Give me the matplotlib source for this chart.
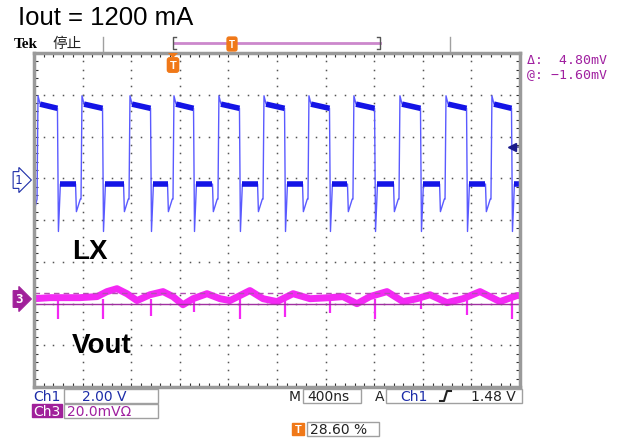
import numpy as np
import matplotlib.pyplot as plt
from matplotlib.patches import Rectangle, Polygon
from matplotlib.lines import Line2D

plt.rcParams['font.family'] = ['Liberation Sans', 'Noto Sans CJK SC', 'DejaVu Sans']

W, H = 642, 439

# scope settings
ns_per_div = 400
trig_pos = 0.286          # 28.60 %
ch1_v_per_div = 2.0
ch1_offset_div = 1.0
ch3_mv_per_div = 20.0
ch3_offset_div = -1.92
trig_level_v = 1.48
cursor_a_mv = 3.20
cursor_b_mv = -1.60

# LX (Ch1): switching edges, ns from trigger
rise_ns = [-1119, -757, -362, 0, 370, 741, 1111, 1481, 1860, 2239, 2617]
fall_ns = [-947, -576, -181, 173, 551, 922, 1292, 1663, 2041, 2420, 2790]
# LX levels (V)
lx_overshoot = 3.95
lx_high_start = 3.55
lx_high_end = 3.35
lx_low = -0.28
lx_fall_spike = -2.55
lx_dip = -1.6
lx_dip_end = -1.0

# Vout ripple (Ch3, mV)
vout_t_ns = [-1144, -1012, -905, -765, -625, -543, -461, -379, -296, -189, -82, 0,
             82, 165, 280, 387, 469, 633, 741, 856, 988, 1128, 1292, 1399, 1514,
             1621, 1761, 1893, 2008, 2115, 2255, 2387, 2527, 2691, 2831, 2856]
vout_mv = [0.7, 1.2, 1.2, 1.2, 1.7, 4.1, 5.5, 3.1, -0.2, 2.6, 4.1, 1.7,
           -2.2, 0.7, 3.1, 0.7, -0.2, 4.6, 0.7, -0.7, 3.1, 0.7, 1.2, 1.7, -1.7,
           1.7, 4.1, -0.7, 0.7, 2.6, -1.2, 0.7, 4.1, -0.7, 2.2, 2.2]
spike_ns = fall_ns
spike_mv = [-8.9, -8.9, -7.4, -5.5, -8.9, -7.9, -6.0, -8.9, -4.1, -7.0, -8.9]

t_left = -trig_pos * 10 * ns_per_div
t_right = t_left + 10 * ns_per_div


def tx(t):
    return (np.asarray(t, float) - t_left) / ns_per_div


def y1(v):
    return np.asarray(v, float) / ch1_v_per_div + ch1_offset_div


def y3(mv):
    return np.asarray(mv, float) / ch3_mv_per_div + ch3_offset_div


def fx(x):
    return x / W


def fy(y):
    return 1 - y / H


fig = plt.figure(figsize=(W / 100, H / 100), dpi=100)
ax = fig.add_axes([fx(34), fy(388), 486 / W, 334 / H])
ax.set_xlim(0, 10)
ax.set_ylim(-4, 4)

# graticule
dot_c = '#555555'
for xi in range(1, 10):
    yy = np.arange(-4, 4.01, 0.2)
    ax.plot(np.full_like(yy, xi), yy, ls='none', marker='s', ms=1.1, color=dot_c, mew=0)
for yi in range(-3, 4):
    xx = np.arange(0, 10.01, 0.2)
    ax.plot(xx, np.full_like(xx, yi), ls='none', marker='s', ms=1.1, color=dot_c, mew=0)

ax.set_xticks(np.arange(0, 10.01, 0.2))
ax.set_yticks(np.arange(-4, 4.01, 0.2))
ax.tick_params(direction='in', length=3, width=0.8, color='#333333',
               top=True, right=True, labelbottom=False, labelleft=False)
for s in ax.spines.values():
    s.set_color('#9a9a9a')
    s.set_linewidth(2.5)

# Ch1 trace
tp, vp = [t_left], [lx_dip]
high_segs, low_segs = [], []
for i, tr in enumerate(rise_ns):
    tf = fall_ns[i]
    tp += [tr, tr + 8, tr + 25, tf - 4, tf + 4, tf + 20]
    vp += [lx_dip_end, lx_overshoot, lx_high_start, lx_high_end, lx_fall_spike, lx_low]
    high_segs.append(([tr + 25, tf - 4], [lx_high_start, lx_high_end]))
    if i + 1 < len(rise_ns):
        nxt = rise_ns[i + 1]
        tp += [nxt - 45, nxt - 38, nxt - 6]
        vp += [lx_low, lx_dip, lx_dip_end]
        low_segs.append(([tf + 20, nxt - 45], [lx_low, lx_low]))
    else:
        tp += [t_right]
        vp += [lx_low]
        low_segs.append(([tf + 20, t_right], [lx_low, lx_low]))
ax.plot(tx(tp), y1(vp), color='#5a5aff', lw=1.0)
for ts, vs in high_segs + low_segs:
    ax.plot(tx(ts), y1(vs), color='#1414e6', lw=4.0, solid_capstyle='butt')

# Ch3 trace
ax.plot(tx(vout_t_ns), y3(vout_mv), color='#f428f4', lw=5.0, solid_joinstyle='round')
ax.vlines(tx(spike_ns), y3(0.5), y3(spike_mv), color='#f428f4', lw=1.6)

# cursors
ax.axhline(y3(cursor_a_mv), color='#b050b0', lw=1, ls=(0, (4, 3)))
ax.axhline(y3(cursor_b_mv), color='#a030a0', lw=1)

# trigger level arrow
ax.plot([9.85, 10], [y1(trig_level_v)] * 2, color='#7070a0', lw=1.5)
ax.plot(9.83, y1(trig_level_v), marker='<', ms=6, color='#1c1c8c', clip_on=False)

# labels on screen
fig.text(fx(72), fy(252), 'LX', fontsize=20, fontweight='bold', va='center')
fig.text(fx(72), fy(346), 'Vout', fontsize=20, fontweight='bold', va='center')
fig.text(fx(18), fy(18), 'Iout = 1200 mA', fontsize=18.5, va='center')

# channel ground markers
fig.text(fx(15), fy(181), '1', fontsize=9, color='#1c2ca8', va='center',
         family='DejaVu Sans Mono',
         bbox=dict(boxstyle='rarrow,pad=0.15', fc='white', ec='#1c2ca8', lw=0.8))
fig.text(fx(15), fy(300), '3', fontsize=9, color='white', va='center', fontweight='bold',
         family='DejaVu Sans Mono',
         bbox=dict(boxstyle='rarrow,pad=0.15', fc='#a0209a', ec='#a0209a', lw=0.8))

# header
fig.text(fx(14), fy(44), 'Tek', fontsize=11, fontweight='bold', family='Liberation Serif', va='center')
fig.text(fx(52), fy(44), '停止', fontsize=10.5, family='Noto Sans CJK SC', va='center', color='#222222')
for xg in (103, 450):
    fig.add_artist(Line2D([fx(xg)] * 2, [fy(38), fy(52)], color='#a0a0a0', lw=1))
fig.add_artist(Line2D([fx(174), fx(380)], [fy(44)] * 2, color='#cc88cc', lw=2))
fig.add_artist(Line2D([fx(176), fx(173), fx(173), fx(176)], [fy(38), fy(38), fy(50), fy(50)],
                      color='#555555', lw=1))
fig.add_artist(Line2D([fx(377), fx(380), fx(380), fx(377)], [fy(38), fy(38), fy(50), fy(50)],
                      color='#555555', lw=1))
orange = '#f07818'
fig.text(fx(232), fy(45), 'T', fontsize=7, color='white', fontweight='bold', ha='center', va='center',
         bbox=dict(boxstyle='round,pad=0.2', fc=orange, ec=orange))
fig.add_artist(Polygon([[fx(168), fy(54)], [fx(178), fy(54)], [fx(173), fy(59)]],
                       closed=True, fc=orange, ec='none'))
fig.text(fx(173), fy(66), 'T', fontsize=8, color='white', fontweight='bold', ha='center', va='center',
         bbox=dict(boxstyle='round,pad=0.2', fc=orange, ec=orange))

# cursor readout
purple = '#a020a0'
fig.text(fx(527), fy(61), 'Δ:  4.80mV', fontsize=9.5, color=purple, family='DejaVu Sans Mono', va='center')
fig.text(fx(527), fy(75), '@: −1.60mV', fontsize=9.5, color=purple, family='DejaVu Sans Mono', va='center')

# bottom readouts
blue = '#1c2ca8'


def box(x0, x1, y0, y1_, fc='white', ec='#a0a0a0'):
    fig.add_artist(Rectangle((fx(x0), fy(y1_)), (x1 - x0) / W, (y1_ - y0) / H,
                             fc=fc, ec=ec, lw=1))


box(64, 158, 390, 404)
box(64, 158, 405, 419)
box(303, 361, 390, 404)
box(386, 522, 390, 404)
box(307, 379, 423, 437)
box(32, 62, 405, 418, fc='#a0209a', ec='#a0209a')
box(292, 304, 424, 436, fc=orange, ec=orange)

bf = dict(fontsize=10, va='center', family='DejaVu Sans')
fig.text(fx(33), fy(397), 'Ch1', color=blue, **bf)
fig.text(fx(82), fy(397), '2.00 V', color=blue, **bf)
fig.text(fx(33), fy(412), 'Ch3', color='white', **bf)
fig.text(fx(67), fy(412), '20.0mVΩ', color=purple, **bf)
fig.text(fx(289), fy(397), 'M', color='#222222', **bf)
fig.text(fx(307), fy(397), '400ns', color='#222222', **bf)
fig.text(fx(375), fy(397), 'A', color='#222222', **bf)
fig.text(fx(400), fy(397), 'Ch1', color=blue, **bf)
fig.text(fx(471), fy(397), '1.48 V', color='#222222', **bf)
fig.add_artist(Line2D([fx(440), fx(444), fx(447), fx(451)],
                      [fy(402), fy(402), fy(392), fy(392)], color='#222222', lw=1.5))
fig.text(fx(298), fy(430), 'T', color='white', fontsize=8, fontweight='bold', ha='center', va='center')
fig.text(fx(310), fy(430), '28.60 %', color='#222222', **bf)

fig.savefig('out.png', dpi=100)
